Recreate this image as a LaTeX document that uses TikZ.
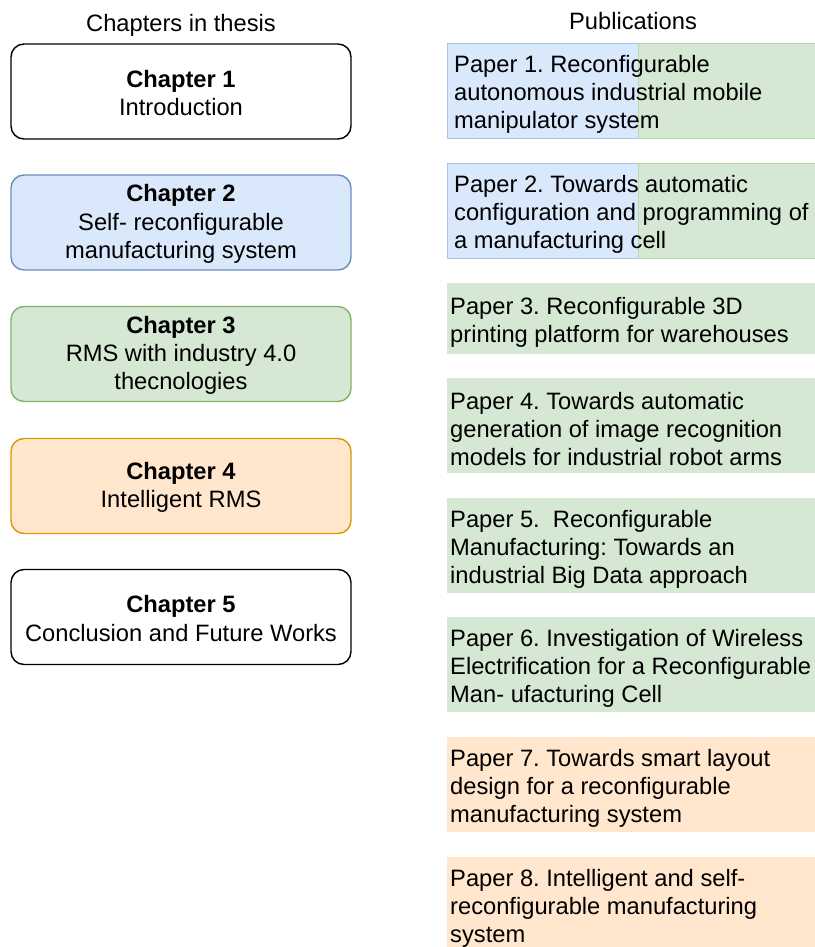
\documentclass[tikz,border=0pt]{standalone}
\usepackage{fontspec}
\setmainfont{Liberation Sans}
\frenchspacing
\definecolor{bluefill}{HTML}{DAE8FC}
\definecolor{blueline}{HTML}{6C8EBF}
\definecolor{bluethin}{HTML}{A9C4EB}
\definecolor{greenfill}{HTML}{D5E8D4}
\definecolor{greenline}{HTML}{82B366}
\definecolor{greenthin}{HTML}{B9D9A8}
\definecolor{orangefill}{HTML}{FFE6CC}
\definecolor{orangeline}{HTML}{D79B00}
\newcommand{\txtsize}{\fontsize{23.7}{28.3}\selectfont}
\tikzset{
  chapbox/.style={draw, line width=1.4pt, rounded corners=13pt, fill=white,
    minimum width=340pt, minimum height=95pt, inner sep=0pt},
  chaptext/.style={align=center, inner sep=0pt, font=\txtsize, yshift=-1.5pt},
  paperbox/.style={anchor=north west, minimum width=370pt, minimum height=95pt,
    inner sep=0pt},
  papertext/.style={anchor=west, align=left, inner xsep=3pt, inner ysep=0pt,
    font=\txtsize, yshift=-3.5pt},
  halfbox/.style={anchor=north west, minimum height=95pt, inner sep=0pt, line width=0.8pt},
  heading/.style={anchor=base, font=\txtsize, inner sep=0pt},
}
\begin{document}
\begin{tikzpicture}[x=1pt,y=-1pt]
\useasboundingbox[fill=white] (0,0) rectangle (814,947);

% column headings
\node[heading] (hchap) at (181,32) {Chapters in thesis};
\node[heading] (hpub) at (633,30) {Publications};

% chapters
\node[chapbox] (c1) at (181,91.5) {};
\node[chaptext] (t1) at (c1) {\textbf{Chapter 1}\\Introduction};
\node[chapbox, fill=bluefill, draw=blueline] (c2) at (181,222.5) {};
\node[chaptext] (t2) at (c2) {\textbf{Chapter 2}\\Self- reconfigurable\\manufacturing system};
\node[chapbox, fill=greenfill, draw=greenline] (c3) at (181,354) {};
\node[chaptext] (t3) at (c3) {\textbf{Chapter 3}\\RMS with industry 4.0\\thecnologies};
\node[chapbox, fill=orangefill, draw=orangeline] (c4) at (181,486) {};
\node[chaptext] (t4) at (c4) {\textbf{Chapter 4}\\Intelligent RMS};
\node[chapbox] (c5) at (181,617) {};
\node[chaptext] (t5) at (c5) {\textbf{Chapter 5}\\Conclusion and Future Works};

% papers shared between chapters 2 and 3
\node[halfbox, fill=bluefill, draw=bluethin, minimum width=191pt] (p1a) at (447,43) {};
\node[halfbox, fill=greenfill, draw=greenthin, minimum width=190pt] (p1b) at (638,43) {};
\node[papertext, inner xsep=7pt] (p1) at (p1a.west)
  {Paper 1. Reconfigurable\\autonomous industrial mobile\\manipulator system};

\node[halfbox, fill=bluefill, draw=bluethin, minimum width=191pt] (p2a) at (447,163) {};
\node[halfbox, fill=greenfill, draw=greenthin, minimum width=190pt] (p2b) at (638,163) {};
\node[papertext, inner xsep=7pt] (p2) at (p2a.west)
  {Paper 2. Towards automatic\\configuration and programming of\\a manufacturing cell};

% papers of chapter 3
\node[paperbox, fill=greenfill, minimum height=71pt] (b3) at (447,283) {};
\node[papertext] (p3) at (b3.west)
  {Paper 3. Reconfigurable 3D\\printing platform for warehouses};
\node[paperbox, fill=greenfill] (b4) at (447,378) {};
\node[papertext] (p4) at (b4.west)
  {Paper 4. Towards automatic\\generation of image recognition\\models for industrial robot arms};
\node[paperbox, fill=greenfill] (b5) at (447,498) {};
\node[papertext] (p5) at (b5.west)
  {Paper 5.\ \ Reconfigurable\\Manufacturing: Towards an\\industrial Big Data approach};
\node[paperbox, fill=greenfill] (b6) at (447,617) {};
\node[papertext] (p6) at (b6.west)
  {Paper 6. Investigation of Wireless\\Electrification for a Reconfigurable\\Man- ufacturing Cell};

% papers of chapter 4
\node[paperbox, fill=orangefill] (b7) at (447,737) {};
\node[papertext] (p7) at (b7.west)
  {Paper 7. Towards smart layout\\design for a reconfigurable\\manufacturing system};
\node[paperbox, fill=orangefill] (b8) at (447,857) {};
\node[papertext] (p8) at (b8.west)
  {Paper 8. Intelligent and self-\\reconfigurable manufacturing\\system};
\end{tikzpicture}
\end{document}
